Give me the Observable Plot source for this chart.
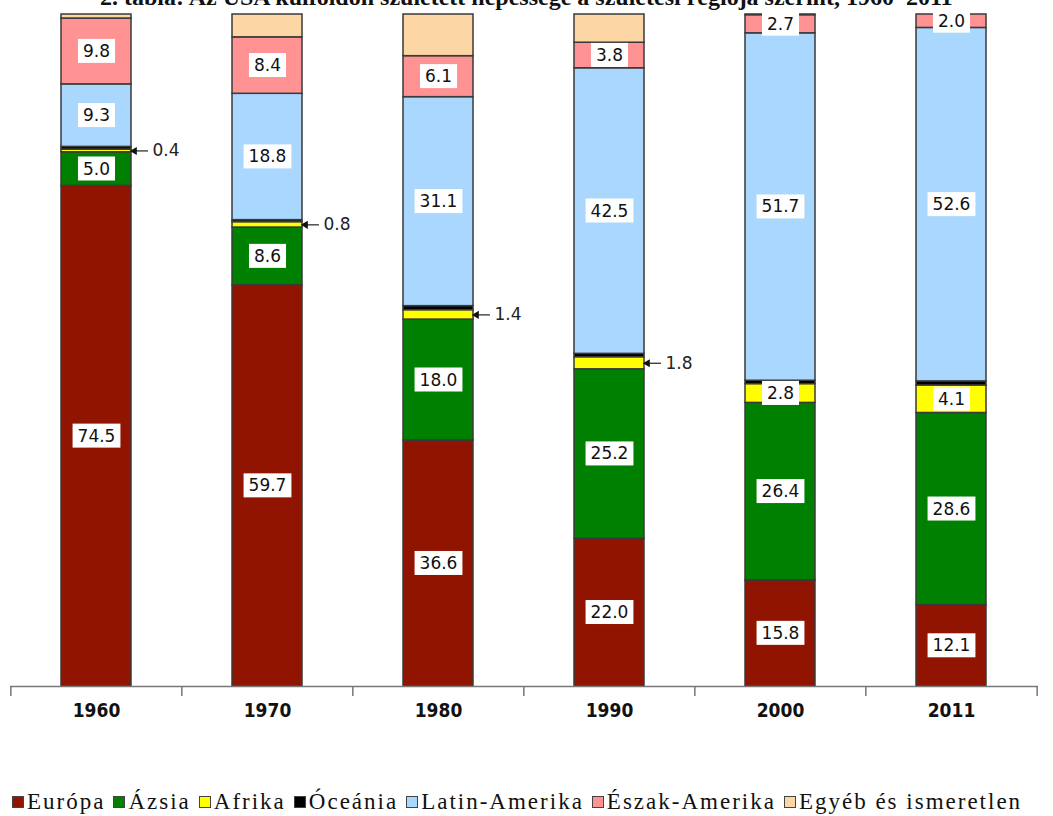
<!DOCTYPE html>
<html><head><meta charset="utf-8">
<script src="https://cdn.jsdelivr.net/npm/d3@7"></script>
<script src="https://cdn.jsdelivr.net/npm/@observablehq/plot@0.6"></script>
<style>
html,body{margin:0;padding:0;background:#fff;width:1053px;height:816px;overflow:hidden;position:relative}
#title{position:absolute;top:-15px;left:100px;white-space:nowrap;font:bold 24px "Liberation Serif",serif;line-height:24px;color:#111;z-index:2}
#chart{position:absolute;top:0;left:0}
#legend{position:absolute;top:789px;left:12px;font:23px "Liberation Serif",serif;color:#111;white-space:nowrap;display:flex;align-items:center;letter-spacing:2px}
#legend .item{display:inline-flex;align-items:center;margin-right:8px}
#legend .sw{display:inline-block;width:10px;height:10px;border:1px solid #444;margin-right:3px}
</style></head><body>
<div id="chart"></div>
<div id="title">2. tábla: Az USA külföldön született népessége a születési régiója szerint, 1960–2011</div>
<div id="legend"></div>
<script>
const years = ["1960", "1970", "1980", "1990", "2000", "2011"];
const regions = ["Európa", "Ázsia", "Afrika", "Óceánia", "Latin-Amerika", "Észak-Amerika", "Egyéb és ismeretlen"];
const colors = ["#901400", "#008000", "#ffff00", "#000000", "#a9d7fd", "#ff9393", "#fdd6a6"];
const europa = [74.5, 59.7, 36.6, 22.0, 15.8, 12.1];
const azsia = [5.0, 8.6, 18.0, 25.2, 26.4, 28.6];
const afrika = [0.4, 0.8, 1.4, 1.8, 2.8, 4.1];
const oceania = [0.4, 0.3, 0.6, 0.5, 0.5, 0.6];
const latinAmerika = [9.3, 18.8, 31.1, 42.5, 51.7, 52.6];
const eszakAmerika = [9.8, 8.4, 6.1, 3.8, 2.7, 2.0];
const egyeb = [0.6, 3.4, 6.2, 4.2, 0.1, 0.0];

const seriesList = [europa, azsia, afrika, oceania, latinAmerika, eszakAmerika, egyeb];
const data = [];
regions.forEach((r, k) => seriesList[k].forEach((v, i) => data.push({year: years[i], region: r, value: v})));

const labeled = new Set(["Európa", "Ázsia", "Afrika", "Latin-Amerika", "Észak-Amerika"]);
const isOutside = d => d.region === "Afrika" && d.value < 2.5;
const isInside = d => labeled.has(d.region) && !isOutside(d);
const fmt = d => d.value.toFixed(1);
const st = {x: "year", y: "value", z: "region", order: regions};
const axisStyle = {stroke: "#777", strokeWidth: 1.5, label: null};

const W = 1053, H = 750;
const chart = Plot.plot({
  width: W,
  height: H,
  marginLeft: 10,
  marginRight: 15,
  marginTop: 14,
  marginBottom: 64,
  style: {background: "#fff", fontFamily: "DejaVu Sans, sans-serif"},
  x: {domain: years, paddingInner: 0.59, paddingOuter: 0.295, axis: null, label: null},
  y: {domain: [0, 100], axis: null},
  color: {domain: regions, range: colors},
  marks: [
    Plot.barY(data, Plot.stackY({...st, fill: "region", stroke: "#3a3a3a", strokeWidth: 1.5})),
    Plot.ruleY([0], {stroke: "#777", strokeWidth: 1.5}),
    Plot.axisX({...axisStyle, tickSize: 10, text: null, dx: -85.67}),
    Plot.axisX({...axisStyle, ticks: ["2011"], tickSize: 10, text: null, dx: 85.67}),
    Plot.axisX({tickSize: 0, tickPadding: 17, fontSize: 19, fontWeight: "bold", fontFamily: "DejaVu Sans Condensed, DejaVu Sans, sans-serif", fill: "#111", label: null}),
    Plot.text(data, Plot.filter(isInside, Plot.stackY({...st, text: fmt, fontSize: 17, fill: "#111"}))),
    Plot.text(data, Plot.filter(isOutside, Plot.stackY({...st, text: fmt, fontSize: 17, fill: "#222", textAnchor: "start", dx: 56}))),
    Plot.tickY(data, Plot.filter(isOutside, Plot.stackY({...st, stroke: "#333", strokeWidth: 1.3, insetLeft: 0, insetRight: 54, dx: 71}))),
    Plot.dot(data, Plot.filter(isOutside, Plot.stackY({...st, symbol: "triangle", rotate: -90, r: 3, fill: "#111", stroke: "none", dx: 38})))
  ]
});
document.getElementById("chart").append(chart);

// white boxes behind the inside labels (first text mark)
const inGroup = chart.querySelector('g[aria-label="text"]');
if (inGroup) {
  inGroup.querySelectorAll("text").forEach(t => {
    const bb = t.getBBox();
    const r = document.createElementNS("http://www.w3.org/2000/svg", "rect");
    r.setAttribute("x", bb.x - 5);
    r.setAttribute("y", bb.y - 2);
    r.setAttribute("width", bb.width + 10);
    r.setAttribute("height", bb.height + 4);
    r.setAttribute("fill", "#fff");
    const tr = t.getAttribute("transform");
    if (tr) r.setAttribute("transform", tr);
    t.parentNode.insertBefore(r, t);
  });
}

const legend = document.getElementById("legend");
regions.forEach((r, k) => {
  const it = document.createElement("span");
  it.className = "item";
  const sw = document.createElement("span");
  sw.className = "sw";
  sw.style.background = colors[k];
  it.append(sw, document.createTextNode(r));
  legend.append(it);
});
</script>
</body></html>
